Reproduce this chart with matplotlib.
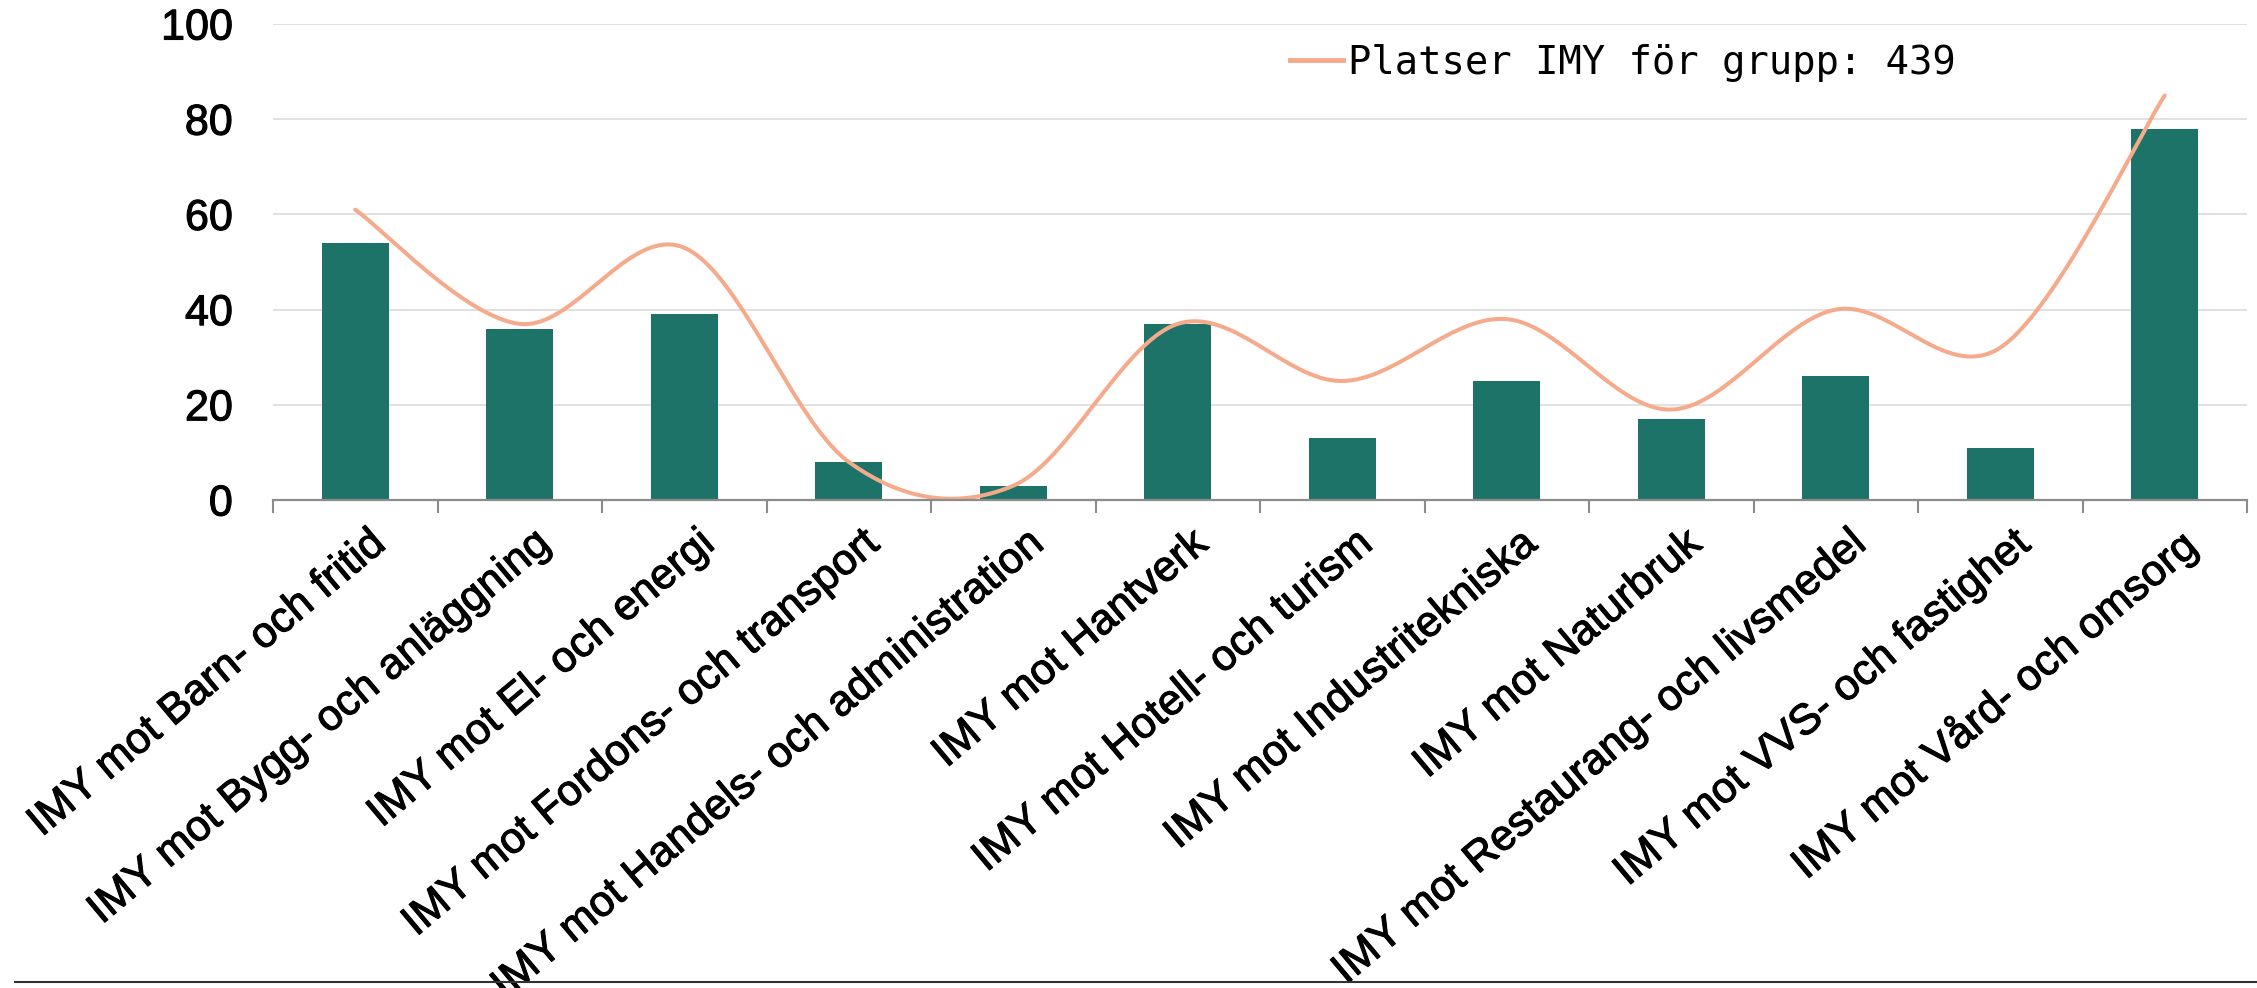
#!/usr/bin/env python3
"""
Bar chart: IMY mot program, with smoothed line for platser
"""

import numpy as np
import matplotlib
matplotlib.use("Agg")
import matplotlib.pyplot as plt
import matplotlib.transforms as mtransforms
import matplotlib.patheffects as pe
from matplotlib.lines import Line2D

# Data
categories = [
    "IMY mot Barn- och fritid",
    "IMY mot Bygg- och anläggning",
    "IMY mot El- och energi",
    "IMY mot Fordons- och transport",
    "IMY mot Handels- och administration",
    "IMY mot Hantverk",
    "IMY mot Hotell- och turism",
    "IMY mot Industritekniska",
    "IMY mot Naturbruk",
    "IMY mot Restaurang- och livsmedel",
    "IMY mot VVS- och fastighet",
    "IMY mot Vård- och omsorg",
]
bar_values = [54, 36, 39, 8, 3, 37, 13, 25, 17, 26, 11, 78]
line_values = [61, 37, 53, 8, 3, 37, 25, 38, 19, 40, 32, 85]
line_label = "Platser IMY för grupp: 439"
y_ticks = [0, 20, 40, 60, 80, 100]

BAR_COLOR = "#1d7367"
LINE_COLOR = "#f5aa8b"
GRID_COLOR = "#d9d9d9"
AXIS_COLOR = "#8c8c8c"


def smooth_curve(xs, ys, n=40):
    """Catmull-Rom spline through the points (like Excel's smoothed line)"""
    x = np.asarray(xs, dtype=float)
    y = np.asarray(ys, dtype=float)
    px = np.concatenate([[x[0]], x, [x[-1]]])
    py = np.concatenate([[y[0]], y, [y[-1]]])
    out_x, out_y = [], []
    t = np.linspace(0, 1, n)
    for i in range(1, len(px) - 2):
        p0x, p1x, p2x, p3x = px[i - 1:i + 3]
        p0y, p1y, p2y, p3y = py[i - 1:i + 3]
        bx = [p1x, p1x + (p2x - p0x) / 6, p2x - (p3x - p1x) / 6, p2x]
        by = [p1y, p1y + (p2y - p0y) / 6, p2y - (p3y - p1y) / 6, p2y]
        cx = ((1 - t) ** 3 * bx[0] + 3 * (1 - t) ** 2 * t * bx[1]
              + 3 * (1 - t) * t ** 2 * bx[2] + t ** 3 * bx[3])
        cy = ((1 - t) ** 3 * by[0] + 3 * (1 - t) ** 2 * t * by[1]
              + 3 * (1 - t) * t ** 2 * by[2] + t ** 3 * by[3])
        out_x.extend(cx)
        out_y.extend(cy)
    return np.array(out_x), np.array(out_y)


def main():
    W, H, dpi = 2257, 988, 100
    fig = plt.figure(figsize=(W / dpi, H / dpi), dpi=dpi)

    left, right, top, bottom = 273, 2247, 24, 500
    ax = fig.add_axes([left / W, 1 - bottom / H, (right - left) / W, (bottom - top) / H])

    x = np.arange(len(categories))
    ax.bar(x, bar_values, width=0.41, color=BAR_COLOR, zorder=2)

    sx, sy = smooth_curve(x, line_values)
    ax.plot(sx, sy, color=LINE_COLOR, lw=2.9, solid_capstyle="round", zorder=3, clip_on=False)

    # slightly heavier text, like the reference rendering
    heavy = [pe.withStroke(linewidth=0.8, foreground="black")]

    ax.set_xlim(-0.5, len(categories) - 0.5)
    ax.set_ylim(0, 100)
    ax.set_yticks(y_ticks)
    ax.set_yticklabels([str(v) for v in y_ticks], fontsize=31, family="Liberation Sans")
    ax.tick_params(axis="y", length=0, pad=29)
    ax.yaxis.grid(True, color=GRID_COLOR, lw=1.1, zorder=0)
    ax.set_axisbelow(True)

    ax.set_xticks(x)
    ax.set_xticklabels(categories, fontsize=31, family="Liberation Sans",
                       rotation=40, ha="right", va="top", rotation_mode="anchor")
    ax.tick_params(axis="x", which="major", length=0, pad=17)
    ax.set_xticks(np.arange(-0.5, len(categories), 1.0), minor=True)
    ax.tick_params(axis="x", which="minor", length=9.4, width=1.5, color=AXIS_COLOR)

    shift = mtransforms.ScaledTranslation(12 / dpi, 0, fig.dpi_scale_trans)
    for lbl in ax.get_xticklabels():
        lbl.set_transform(lbl.get_transform() + shift)
        lbl.set_path_effects(heavy)
    for lbl in ax.get_yticklabels():
        lbl.set_path_effects(heavy)

    for side in ["left", "right", "top"]:
        ax.spines[side].set_visible(False)
    ax.spines["bottom"].set_color(AXIS_COLOR)
    ax.spines["bottom"].set_linewidth(1.6)
    ax.spines["bottom"].set_zorder(4)

    # Legend
    handle = Line2D([0], [0], color=LINE_COLOR, lw=3.5)
    fig.legend([handle], [line_label], loc="center left",
               bbox_to_anchor=(1290 / W, 1 - 63 / H), frameon=False,
               prop={"family": "DejaVu Sans Mono", "size": 28},
               handlelength=1.36, handletextpad=0.13, borderpad=0, borderaxespad=0)

    # Bottom rule line
    fig.add_artist(Line2D([15 / W, 1.0], [1 - 982 / H, 1 - 982 / H],
                          transform=fig.transFigure, color="#333333", lw=1.5))

    fig.savefig("out.png", dpi=dpi)


if __name__ == "__main__":
    main()
